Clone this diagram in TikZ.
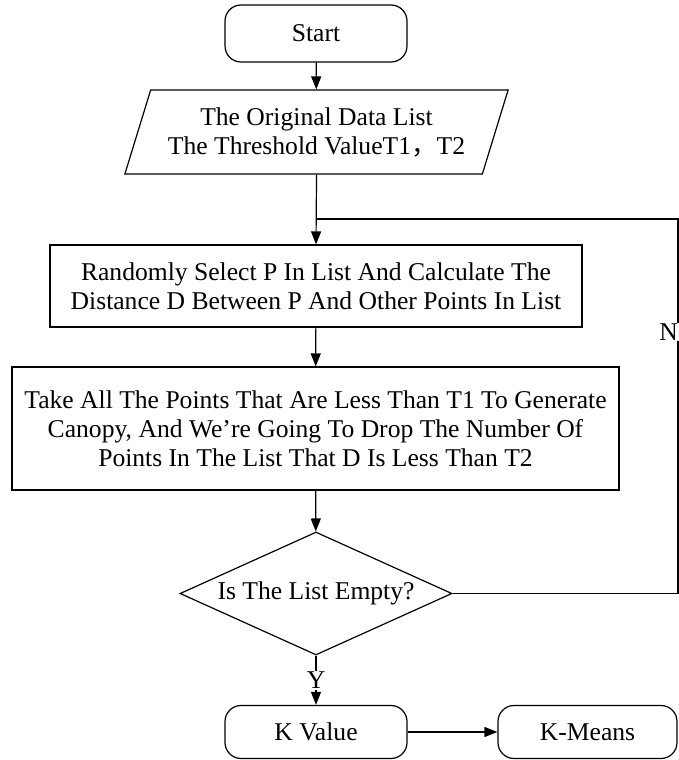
\documentclass[tikz,border=0pt]{standalone}
\usepackage{fontspec}
\setmainfont{Liberation Serif}
\newfontfamily\cjk{Noto Sans CJK SC}
\usetikzlibrary{positioning,arrows.meta,shapes.geometric}
\tikzset{
  term/.style={rectangle, rounded corners=16pt, draw=black, line width=1.2pt, minimum height=53pt},
  io/.style={trapezium, trapezium stretches=true, trapezium left angle=65, trapezium right angle=115, draw=black, line width=1.2pt, minimum width=385pt, minimum height=84pt, align=center, inner sep=0pt},
  proc/.style={rectangle, draw=black, line width=1.2pt, align=center, inner sep=0pt},
  dec/.style={diamond, draw=black, line width=1.2pt, aspect=2.2, inner sep=0pt, minimum width=272pt, minimum height=123pt},
  ln/.style={draw=black, line width=1.2pt},
  arr/.style={ln, -{Triangle[length=13pt,width=10pt]}},
  lbl/.style={fill=white, inner sep=1pt},
  every node/.style={font=\fontsize{25.6pt}{29pt}\selectfont}
}

\begin{document}
\begin{tikzpicture}[x=1pt, y=-1pt]
  \clip (0,0) rectangle (679,760);
  \node[term, minimum width=182pt, minimum height=57pt] (st) at (316,33.5) {Start};
  \node[io] (io) at (316.5,132) {The Original Data List\\The Threshold ValueT1{\cjk ，}T2};
  \node[proc, minimum width=532pt, minimum height=82pt] (p1) at (316,286) {Randomly Select P In List And Calculate The\\Distance D Between P And Other Points In List};
  \node[proc, minimum width=607pt, minimum height=123pt] (p2) at (315.5,428.5) {Take All The Points That Are Less Than T1 To Generate\\Canopy, And We're Going To Drop The Number Of\\Points In The List That D Is Less Than T2};
  \node[dec] (dec) at (316,593.5) {Is The List Empty?};
  \node[term, minimum width=182pt] (kv) at (316,732) {K Value};
  \node[term, minimum width=179pt] (km) at (587.5,732) {K-Means};
  \coordinate (jn) at (316,219);
  \coordinate (cr) at (678,593.5);
  \coordinate (ctr) at (678,219);
  \draw[arr] (st) -- (io);
  \draw[arr] (io.south) -- (p1.north);
  \draw[arr] (p1) -- (p2);
  \draw[arr] (p2) -- (dec);
  \draw[arr] (dec.south) -- node[lbl] (y) {Y} (kv.north);
  \draw[arr] (kv) -- (km);
  \draw[ln] (dec.east) -- (cr) -- (ctr) -- (jn);
  \node[lbl, anchor=east] (n) at (679,332) {N};
\end{tikzpicture}
\end{document}
